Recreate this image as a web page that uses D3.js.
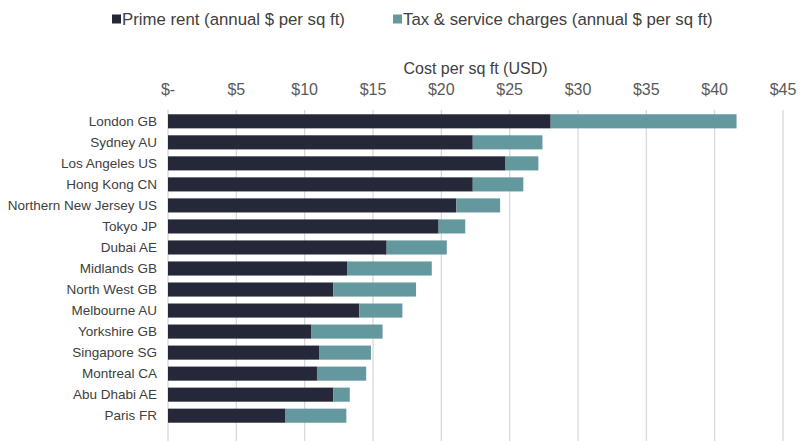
<!DOCTYPE html>
<html><head><meta charset="utf-8">
<script src="https://cdn.jsdelivr.net/npm/d3@7"></script>
<style>body{margin:0;background:#fff;}svg{display:block;font-family:"Liberation Sans",Arial,sans-serif;}</style>
</head><body>
<svg id="c" width="810" height="441"></svg>
<script>
const categories = ["London GB","Sydney AU","Los Angeles US","Hong Kong CN","Northern New Jersey US","Tokyo JP","Dubai AE","Midlands GB","North West GB","Melbourne AU","Yorkshire GB","Singapore SG","Montreal CA","Abu Dhabi AE","Paris FR"];
const primeRent = [28.0,22.3,24.7,22.3,21.1,19.8,16.0,13.1,12.1,14.0,10.5,11.05,10.9,12.1,8.6];
const taxService = [13.6,5.1,2.4,3.7,3.2,1.95,4.4,6.2,6.05,3.15,5.2,3.8,3.6,1.2,4.45];
const seriesNames = ["Prime rent (annual $ per sq ft)","Tax & service charges (annual $ per sq ft)"];
const tickValues = [0,5,10,15,20,25,30,35,40,45];
const tickLabels = ["$-","$5","$10","$15","$20","$25","$30","$35","$40","$45"];
const colors = ["#252839","#63989f"];

const svg = d3.select("#c");
const x = d3.scaleLinear().domain([0,45]).range([168,783]);
const y = d3.scaleBand().domain(categories).range([110.8,426.2]).paddingInner(0.33).paddingOuter(0.165);

svg.append("g").selectAll("line").data(tickValues).join("line")
  .attr("x1",d=>x(d)).attr("x2",d=>x(d)).attr("y1",110).attr("y2",441)
  .attr("stroke","#d9d9d9").attr("stroke-width",1.3);

const rows = categories.map((c,i)=>({c, a:primeRent[i], b:taxService[i]}));
svg.append("g").selectAll("rect").data(rows).join("rect")
  .attr("x",x(0)).attr("y",d=>y(d.c)).attr("width",d=>x(d.a)-x(0)).attr("height",y.bandwidth())
  .attr("fill",colors[0]);
svg.append("g").selectAll("rect").data(rows).join("rect")
  .attr("x",d=>x(d.a)).attr("y",d=>y(d.c)).attr("width",d=>x(d.a+d.b)-x(d.a)).attr("height",y.bandwidth())
  .attr("fill",colors[1]);

svg.append("g").selectAll("text").data(categories).join("text")
  .attr("x",157).attr("y",d=>y(d)+y.bandwidth()/2).attr("dy","0.35em")
  .attr("text-anchor","end").attr("font-size",13.5).attr("fill","#404040").text(d=>d);

svg.append("g").selectAll("text").data(tickValues).join("text")
  .attr("x",d=>x(d)).attr("y",95).attr("text-anchor","middle")
  .attr("font-size",16).attr("fill","#595959").text((d,i)=>tickLabels[i]);

svg.append("text").attr("x",(x(0)+x(45))/2).attr("y",74).attr("text-anchor","middle")
  .attr("font-size",16).attr("fill","#404040").text("Cost per sq ft (USD)");

const legX = [112,393];
const lg = svg.append("g").selectAll("g").data(seriesNames).join("g")
  .attr("transform",(d,i)=>`translate(${legX[i]},19)`);
lg.append("rect").attr("x",0).attr("y",-4.5).attr("width",9).attr("height",9).attr("fill",(d,i)=>colors[i]);
lg.append("text").attr("x",10).attr("y",0).attr("dy","0.35em").attr("font-size",16.8).attr("fill","#404040").text(d=>d);
</script>
</body></html>
